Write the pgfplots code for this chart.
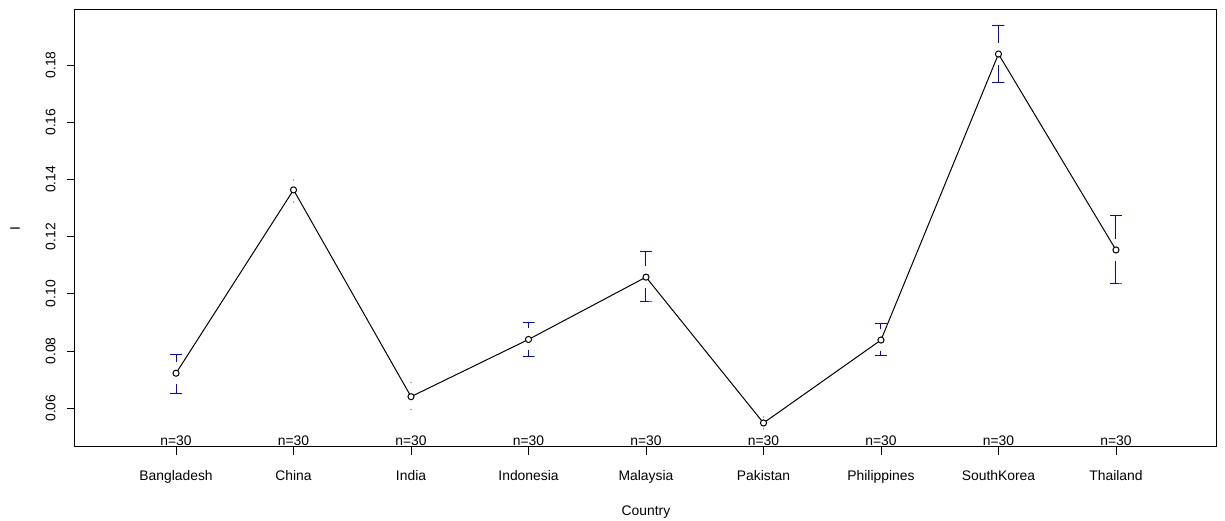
\documentclass[border=0pt]{standalone}
\usepackage{fontspec}
\setmainfont{Liberation Sans}
\usepackage{pgfplots}
\usepackage{pgfplotstable}
\pgfplotsset{compat=1.18}

% group means
\pgfplotstableread{
x mean
1 0.0722
2 0.1363
3 0.0640
4 0.0840
5 0.1058
6 0.0548
7 0.0838
8 0.1838
9 0.1153
}\means

% interval bars: cap at the limit, stem back to the gap around the mean
% (gap 0.00385, cap half width 0.051)
\pgfplotstableread{
x y
0.949 0.0789
1.051 0.0789
1     0.0789
1     0.07605
nan   nan
0.949 0.0652
1.051 0.0652
1     0.0652
1     0.06835
nan   nan
3.949 0.0901
4.051 0.0901
4     0.0901
4     0.08785
nan   nan
3.949 0.0782
4.051 0.0782
4     0.0782
4     0.08015
nan   nan
4.949 0.1149
5.051 0.1149
5     0.1149
5     0.10965
nan   nan
4.949 0.0971
5.051 0.0971
5     0.0971
5     0.10195
nan   nan
6.949 0.0896
7.051 0.0896
7     0.0896
7     0.08765
nan   nan
6.949 0.0785
7.051 0.0785
7     0.0785
7     0.07995
nan   nan
7.949 0.1938
8.051 0.1938
8     0.1938
8     0.18765
nan   nan
7.949 0.1737
8.051 0.1737
8     0.1737
8     0.17995
nan   nan
8.949 0.1273
9.051 0.1273
9     0.1273
9     0.11915
nan   nan
8.949 0.1034
9.051 0.1034
9     0.1034
9     0.11145
}\bars

% intervals lying inside the gap: only their end points show
\pgfplotstableread{
x lo hi
2 0.1321 0.1398
3 0.0595 0.0689
6 0.0527 0.0569
}\short

\begin{document}
\begin{tikzpicture}
\path[use as bounding box] (-56.25pt,-55.5pt) rectangle (862.5pt,335.25pt);
\begin{axis}[
  at={(0,0)}, anchor=south west,
  scale only axis, width=856.5pt, height=327.75pt,
  xmin=0.14, xmax=9.86, ymin=0.0464, ymax=0.1992,
  axis line style={line width=0.75pt},
  tick pos=left, tick align=outside, major tick length=6pt,
  tick style={black, line width=0.6pt},
  xtick={1,...,9},
  xticklabels={Bangladesh,China,India,Indonesia,Malaysia,Pakistan,Philippines,SouthKorea,Thailand},
  ytick={0.06,0.08,...,0.181},
  yticklabel={\pgfmathprintnumber[fixed,fixed zerofill,precision=2]{\tick}},
  /pgf/number format/assume math mode=true,
  tick label style={font=\fontsize{10.4}{12}\selectfont},
  yticklabel style={rotate=90, anchor=south},
  yticklabel shift=5pt,
  xticklabel shift=8pt,
  label style={font=\fontsize{10.4}{12}\selectfont},
  xlabel={Country},
  xlabel style={at={(axis description cs:0.5,0)}, anchor=center, yshift=-48.5pt},
  ylabel={I},
  ylabel style={at={(axis description cs:0,0.5)}, anchor=center, yshift=45pt},
  unbounded coords=jump,
  clip=false,
]
% interval bars
\addplot[forget plot, blue, line width=0.75pt, mark=none] table[x=x, y=y] {\bars};
% end points of the short intervals
\addplot[forget plot, color=blue!45, only marks, mark=*, mark size=0.35pt]
  table[x=x, y=hi] {\short};
\addplot[forget plot, color=blue!45, only marks, mark=*, mark size=0.35pt]
  table[x=x, y=lo] {\short};
% means
\addplot[black, line width=0.75pt, mark=*, mark size=2.3pt,
  mark options={fill=white, draw=black, line width=0.75pt}]
  table[x=x, y=mean] {\means};
% group sizes
\pgfplotsinvokeforeach{1,...,9}{
  \node[anchor=south, inner sep=1pt, font=\fontsize{10.4}{12}\selectfont] at (axis cs:#1,0.0464) {n=30};
}
\end{axis}
\end{tikzpicture}
\end{document}
